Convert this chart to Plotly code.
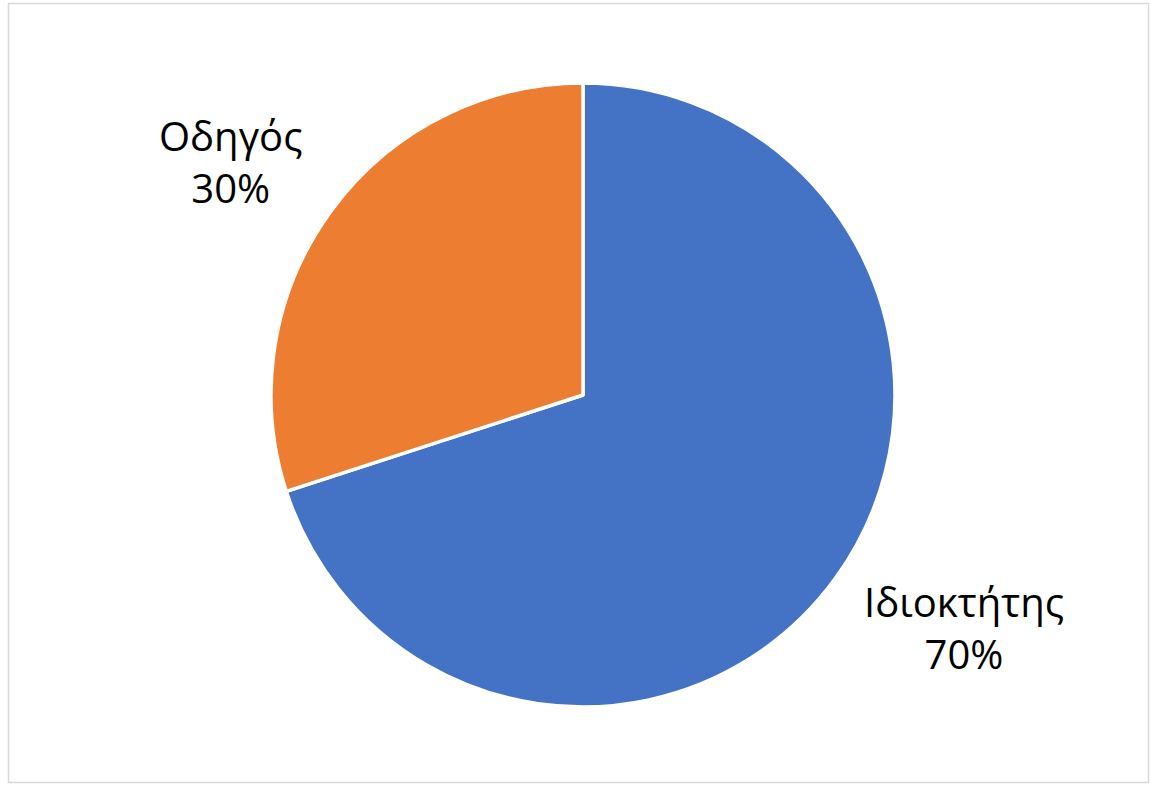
import plotly.graph_objects as go

labels = ["Ιδιοκτήτης", "Οδηγός"]
values = [70, 30]
colors = ["#4472C4", "#ED7D31"]

W, H = 1151, 785
cx, cy, r = 583, 395, 312

fig = go.Figure(go.Pie(
    labels=labels, values=values, sort=False, direction="clockwise", rotation=0,
    marker=dict(colors=colors, line=dict(color="white", width=3.5)),
    textinfo="none", hoverinfo="label+percent", showlegend=False,
    domain=dict(x=[(cx - r) / W, (cx + r) / W], y=[1 - (cy + r) / H, 1 - (cy - r) / H]),
))

total = sum(values)
label_pos = [(964, 627), (230, 162)]
for lab, val, (px, py) in zip(labels, values, label_pos):
    fig.add_annotation(
        x=px / W, y=1 - py / H, xref="paper", yref="paper",
        text=f"{lab}<br>{round(100 * val / total)}%", showarrow=False,
        xanchor="center", yanchor="middle",
        font=dict(family="Open Sans", size=40, color="#000000"),
    )

fig.add_shape(type="rect", xref="paper", yref="paper",
              x0=8.5 / W, x1=1148.5 / W, y0=1 - 782.5 / H, y1=1 - 3.5 / H,
              line=dict(color="#D9D9D9", width=1.5))

fig.update_layout(width=W, height=H, margin=dict(l=0, r=0, t=0, b=0),
                  paper_bgcolor="white", plot_bgcolor="white")
fig.write_html("out.html", config={"displayModeBar": False},
               post_script="document.body.style.margin='0';document.body.style.overflow='hidden';")
